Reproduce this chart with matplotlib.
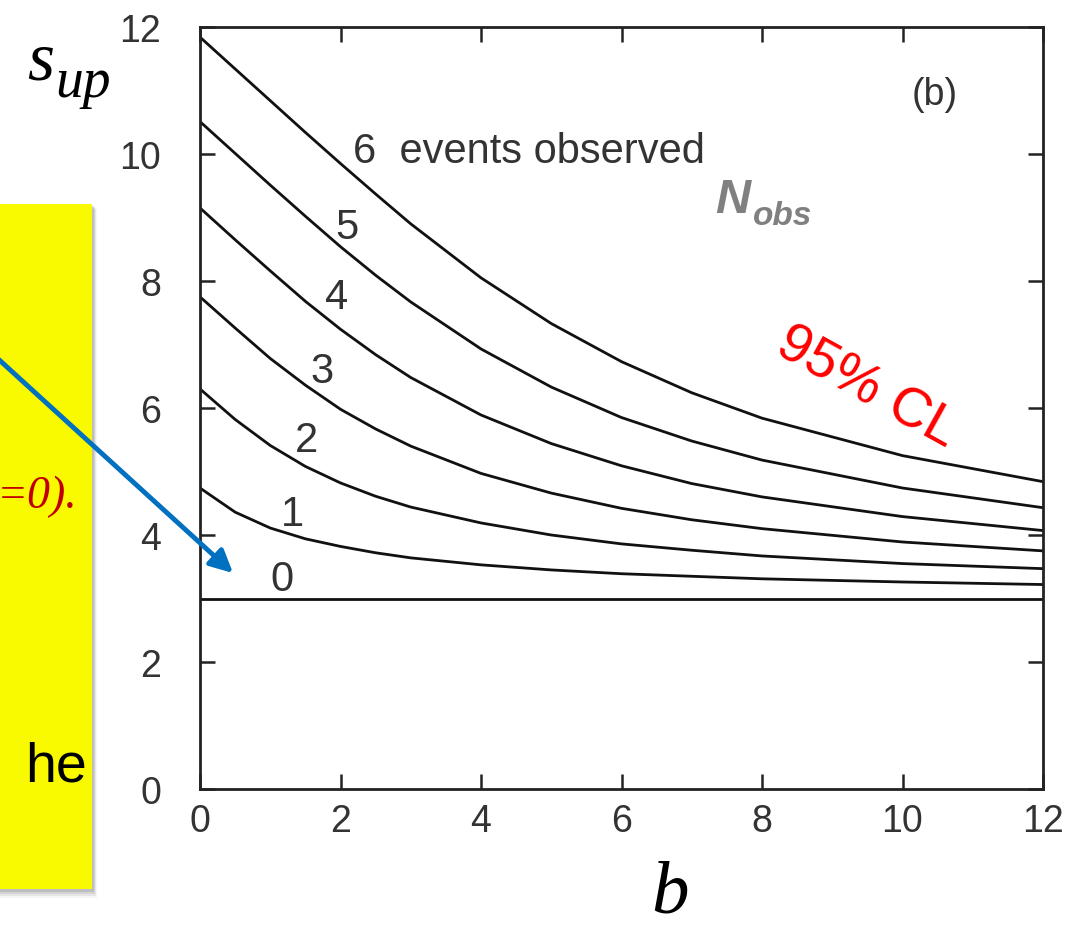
import matplotlib
matplotlib.use("Agg")
import matplotlib.pyplot as plt
from matplotlib.patches import Rectangle

# Expected background b and upper limits s_up (95% CL) for N_obs = 0..6
b_values = [0, 0.5, 1, 1.5, 2, 2.5, 3, 4, 5, 6, 7, 8, 10, 12]
s_up_n0 = [3.00, 3.00, 3.00, 3.00, 3.00, 3.00, 3.00, 3.00, 3.00, 3.00, 3.00, 3.00, 3.00, 3.00]
s_up_n1 = [4.74, 4.36, 4.11, 3.94, 3.82, 3.72, 3.64, 3.53, 3.45, 3.39, 3.35, 3.31, 3.26, 3.22]
s_up_n2 = [6.30, 5.82, 5.41, 5.08, 4.82, 4.61, 4.44, 4.19, 4.00, 3.86, 3.76, 3.67, 3.55, 3.47]
s_up_n3 = [7.75, 7.26, 6.78, 6.36, 5.98, 5.67, 5.40, 4.97, 4.66, 4.42, 4.24, 4.10, 3.89, 3.75]
s_up_n4 = [9.15, 8.65, 8.16, 7.68, 7.24, 6.84, 6.48, 5.89, 5.44, 5.09, 4.81, 4.60, 4.29, 4.07]
s_up_n5 = [10.51, 10.01, 9.51, 9.02, 8.54, 8.09, 7.67, 6.93, 6.33, 5.85, 5.48, 5.18, 4.74, 4.43]
s_up_n6 = [11.84, 11.34, 10.84, 10.34, 9.85, 9.37, 8.90, 8.05, 7.33, 6.73, 6.24, 5.84, 5.25, 4.84]

curve_labels = ["0", "1", "2", "3", "4", "5", "6  events observed"]
x_ticks = [0, 2, 4, 6, 8, 10, 12]
y_ticks = [0, 2, 4, 6, 8, 10, 12]

curves = [s_up_n0, s_up_n1, s_up_n2, s_up_n3, s_up_n4, s_up_n5, s_up_n6]
label_xy = [(1.17, 3.31), (1.32, 4.33), (1.52, 5.50), (1.74, 6.58),
            (1.95, 7.75), (2.09, 8.85), (2.18, 10.05)]

W, H = 1071, 928
fig = plt.figure(figsize=(W / 100, H / 100), dpi=100)
fig.patch.set_facecolor("white")

sans = ["Liberation Sans", "DejaVu Sans"]
serif = ["Liberation Serif", "DejaVu Serif"]
tick_color = "#333333"

ax = fig.add_axes([200 / W, 1 - 790 / H, 843 / W, 762 / H])
for ys in curves:
    ax.plot(b_values, ys, color="#111111", lw=2.0, solid_joinstyle="round")
ax.set_xlim(0, 12)
ax.set_ylim(0, 12)
ax.set_xticks(x_ticks)
ax.set_yticks(y_ticks)
for sp in ax.spines.values():
    sp.set_linewidth(2.0)
    sp.set_color("#222222")
ax.tick_params(direction="in", top=True, right=True, length=11, width=1.8,
               labelsize=27, labelcolor=tick_color, color="#222222")
ax.tick_params(axis="y", pad=28)
ax.tick_params(axis="x", pad=10)
for lab in ax.get_xticklabels() + ax.get_yticklabels():
    lab.set_family(sans)

for text, (xb, ys) in zip(curve_labels, label_xy):
    ax.text(xb, ys, text, fontsize=30, color=tick_color, family=sans,
            ha="left" if len(text) > 1 else "center", va="center")

ax.text(10.46, 10.94, "(b)", fontsize=27, color=tick_color, family=sans,
        ha="center", va="center")

# Slide overlay in pixel coordinates
ov = fig.add_axes([0, 0, 1, 1], zorder=5)
ov.set_xlim(0, W)
ov.set_ylim(H, 0)
ov.axis("off")
ov.patch.set_alpha(0)

# yellow note box with a soft shadow
for i, a in enumerate([0.10, 0.08, 0.06, 0.04]):
    ov.add_patch(Rectangle((0, 205 + 2 + i), 92 + 2 + i, 685 + 1 + i,
                           facecolor="black", alpha=a, lw=0))
ov.add_patch(Rectangle((0, 205), 92, 685, facecolor="#F9F900", lw=0))

ov.text(78, 497, "=0).", fontsize=33, color="#C00000", family=serif,
        style="italic", ha="right", va="center")
ov.text(25, 782, "he", fontsize=40, color="black", family=sans,
        ha="left", va="baseline")

ov.annotate("", xy=(233, 574), xytext=(-4, 358),
            arrowprops=dict(arrowstyle="-|>", color="#0070C0", lw=3.5,
                            mutation_scale=34, shrinkA=0, shrinkB=0))

ov.text(27, 79, "s", fontsize=50, family=serif, style="italic",
        color="black", ha="left", va="baseline")
ov.text(55, 97, "up", fontsize=40, family=serif, style="italic",
        color="black", ha="left", va="baseline")
ov.text(670, 913, "b", fontsize=54, family=serif, style="italic",
        color="black", ha="center", va="baseline")

ov.text(715, 213, "N", fontsize=35, family=sans, style="italic",
        weight="bold", color="#808080", ha="left", va="baseline")
ov.text(753, 225, "obs", fontsize=24, family=sans, style="italic",
        weight="bold", color="#808080", ha="left", va="baseline")

ov.text(866, 388, "95% CL", fontsize=40, family=sans, color="#FF0000",
        rotation=-29, rotation_mode="anchor", ha="center", va="center")

fig.savefig("out.png", dpi=100)
